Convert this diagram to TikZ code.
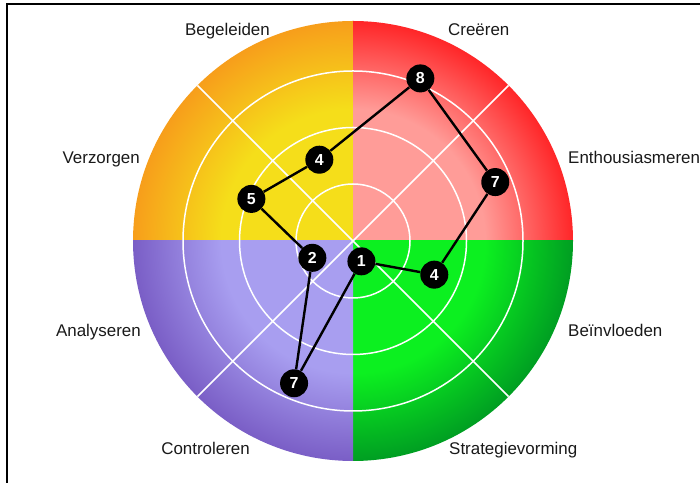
\documentclass[tikz,border=0pt]{standalone}
\usepackage{fontspec}
\setmainfont{Liberation Sans}
\usetikzlibrary{positioning}

\definecolor{yelin}{RGB}{245,222,26}
\definecolor{yelout}{RGB}{247,158,27}
\definecolor{redin}{RGB}{255,156,152}
\definecolor{redout}{RGB}{255,38,40}
\definecolor{grnin}{RGB}{12,240,32}
\definecolor{grnout}{RGB}{0,158,34}
\definecolor{purin}{RGB}{168,158,240}
\definecolor{purout}{RGB}{122,94,198}

\pgfdeclareradialshading{yelq}{\pgfpoint{0bp}{0bp}}{color(0bp)=(yelin); color(15bp)=(yelin); color(25bp)=(yelout); color(50bp)=(yelout)}
\pgfdeclareradialshading{redq}{\pgfpoint{0bp}{0bp}}{color(0bp)=(redin); color(15bp)=(redin); color(25bp)=(redout); color(50bp)=(redout)}
\pgfdeclareradialshading{grnq}{\pgfpoint{0bp}{0bp}}{color(0bp)=(grnin); color(15bp)=(grnin); color(25bp)=(grnout); color(50bp)=(grnout)}
\pgfdeclareradialshading{purq}{\pgfpoint{0bp}{0bp}}{color(0bp)=(purin); color(15bp)=(purin); color(25bp)=(purout); color(50bp)=(purout)}

\tikzset{
  score/.style={circle, fill=black, minimum size=28bp, inner sep=0pt, text=white,
    font=\bfseries\fontsize{16}{16}\selectfont},
  axislabel/.style={text=black!90, inner sep=0pt, font=\fontsize{17}{19}\selectfont},
  ring/.style={white, line width=1.5bp},
  link/.style={black, line width=2.4bp}
}

\begin{document}
\begin{tikzpicture}[x=1bp,y=1bp]
\useasboundingbox (0,0) rectangle (700,483);
\draw[line width=2bp] (7,0) -- (7,479) -- (700,479);
\coordinate (C) at (353,242);

\begin{scope}[shift={(C)}]
% quadrants
\begin{scope}\clip (0,0) rectangle (-225,225); \shade[shading=yelq] (0,0) circle (220); \end{scope}
\begin{scope}\clip (0,0) rectangle (225,225); \shade[shading=redq] (0,0) circle (220); \end{scope}
\begin{scope}\clip (0,0) rectangle (225,-225); \shade[shading=grnq] (0,0) circle (220); \end{scope}
\begin{scope}\clip (0,0) rectangle (-225,-225); \shade[shading=purq] (0,0) circle (220); \end{scope}
% grid
\foreach \r in {57,113.5,170}
  \draw[ring] (0,0) circle (\r);
\draw[ring] (45:220) -- (225:220);
\draw[ring] (135:220) -- (315:220);
% scores
\foreach \nm/\ang/\val in {cre/67.5/8, ent/22.5/7, bei/-22.5/4, str/-67.5/1,
                           con/-112.5/7, ana/-157.5/2, ver/157.5/5, beg/112.5/4}
  \node[score] (\nm) at (\ang:\val*22) {\val};
\draw[link] (cre) -- (ent) -- (bei) -- (str) -- (con) -- (ana) -- (ver) -- (beg) -- (cre);
\end{scope}

% labels
\node[axislabel, anchor=mid east] (lbeg) at (270,450.5) {Begeleiden};
\node[axislabel, anchor=mid west] (lcre) at (448,450.5) {Creëren};
\node[axislabel, anchor=mid east] (lver) at (140,322) {Verzorgen};
\node[axislabel, anchor=mid west] (lent) at (568,322) {Enthousiasmeren};
\node[axislabel, anchor=mid east] (lana) at (141,149.5) {Analyseren};
\node[axislabel, anchor=mid west] (lbei) at (568,149.5) {Beïnvloeden};
\node[axislabel, anchor=mid east] (lcon) at (250,31) {Controleren};
\node[axislabel, anchor=mid west] (lstr) at (449,31) {Strategievorming};
\end{tikzpicture}
\end{document}
